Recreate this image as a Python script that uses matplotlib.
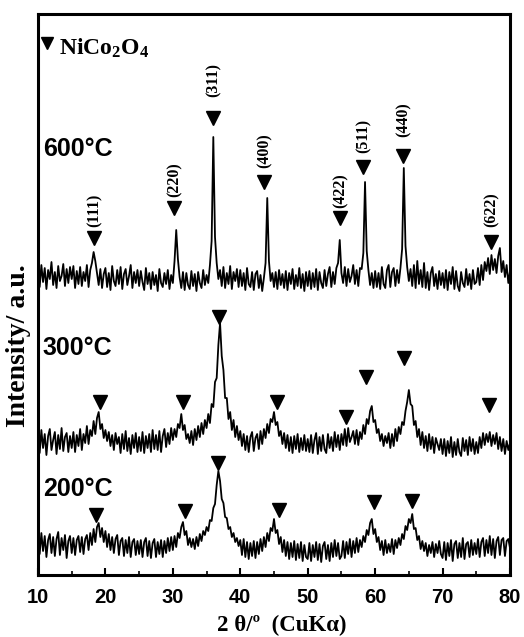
import numpy as np
import matplotlib.pyplot as plt

plt.rcParams['mathtext.fontset'] = 'custom'
plt.rcParams['mathtext.rm'] = 'Liberation Serif:bold'
plt.rcParams['mathtext.bf'] = 'Liberation Serif:bold'

# 2 theta grid (10 -> 80, step 0.25)
two_theta = np.arange(281) * 0.25 + 10

# intensity (a.u.), one row = 5 degrees
i600 = [30, 16, 38, 21, 35, 14, 33, 24, 41, 18, 31, 15, 37, 22, 27, 39, 17, 34, 20, 36,
        24, 37, 15, 32, 19, 36, 17, 31, 22, 38, 16, 33, 40, 51, 42, 30, 18, 34, 15, 29,
        35, 16, 30, 13, 37, 22, 17, 33, 19, 36, 14, 29, 34, 18, 27, 38, 15, 31, 20, 33,
        17, 32, 21, 13, 35, 19, 30, 14, 31, 18, 28, 12, 34, 20, 16, 30, 19, 33, 14, 28,
        20, 42, 73, 44, 26, 15, 31, 13, 30, 18, 14, 32, 17, 29, 12, 31, 20, 15, 33, 18,
        28, 20, 38, 62, 166, 66, 40, 24, 33, 17, 36, 15, 30, 19, 37, 14, 31, 22, 34, 16,
        33, 17, 30, 13, 35, 19, 16, 31, 13, 29, 32, 15, 28, 12, 25, 40, 105, 42, 22, 30,
        16, 31, 14, 33, 18, 29, 15, 32, 13, 30, 19, 34, 14, 28, 17, 35, 15, 29, 12, 31,
        17, 32, 14, 30, 16, 34, 13, 31, 20, 15, 33, 17, 29, 36, 16, 31, 19, 35, 40, 63,
        30, 20, 36, 17, 34, 21, 27, 38, 19, 33, 17, 35, 34, 50, 121, 52, 33, 18, 30, 15,
        32, 16, 30, 14, 36, 19, 15, 33, 38, 16, 31, 35, 17, 33, 20, 35, 54, 135, 57, 36,
        22, 34, 17, 38, 15, 42, 19, 33, 16, 40, 15, 31, 13, 30, 36, 17, 29, 14, 32, 18,
        30, 15, 33, 13, 31, 19, 36, 14, 32, 17, 12, 31, 20, 16, 34, 18, 29, 14, 33, 19,
        21, 35, 18, 38, 23, 41, 32, 45, 29, 48, 33, 44, 30, 47, 55, 31, 42, 26, 38, 20,
        32]

i300 = [31, 17, 40, 22, 36, 15, 34, 41, 20, 30, 38, 16, 35, 21, 42, 19, 33, 37, 18, 34,
        22, 38, 18, 35, 24, 41, 20, 36, 27, 44, 26, 40, 34, 49, 36, 52, 58, 41, 46, 32,
        40, 29, 38, 24, 35, 20, 37, 26, 33, 17, 36, 21, 39, 19, 32, 16, 35, 22, 37, 18,
        33, 19, 38, 17, 34, 22, 36, 18, 40, 21, 35, 20, 39, 18, 34, 41, 23, 37, 26, 42,
        30, 41, 33, 46, 42, 56, 40, 45, 31, 36, 27, 39, 25, 41, 30, 44, 33, 47, 36, 50,
        42, 56, 47, 66, 63, 88, 92, 125, 147, 114, 100, 72, 72, 51, 58, 40, 50, 33, 44, 30,
        39, 24, 36, 20, 34, 18, 33, 38, 19, 32, 36, 21, 39, 26, 41, 32, 46, 37, 51, 48,
        58, 45, 48, 34, 39, 26, 37, 22, 35, 19, 33, 17, 34, 21, 36, 18, 32, 20, 35, 19,
        31, 18, 35, 17, 30, 37, 16, 33, 19, 35, 21, 17, 36, 22, 33, 19, 38, 23, 35, 20,
        36, 25, 41, 24, 42, 28, 33, 39, 26, 40, 25, 38, 31, 45, 36, 51, 46, 59, 64, 48,
        50, 37, 41, 29, 36, 24, 34, 27, 37, 22, 36, 24, 41, 29, 43, 36, 48, 45, 59, 68,
        80, 66, 64, 45, 49, 33, 41, 25, 38, 22, 34, 19, 36, 21, 33, 17, 32, 26, 20, 31,
        16, 31, 14, 29, 17, 33, 13, 28, 15, 31, 18, 14, 32, 19, 30, 15, 33, 19, 31, 16,
        28, 17, 33, 22, 37, 25, 36, 28, 38, 24, 35, 26, 37, 21, 33, 19, 31, 16, 29, 20,
        27]

i200 = [37, 21, 42, 24, 39, 18, 35, 41, 22, 38, 19, 36, 43, 20, 37, 25, 40, 17, 34, 39,
        22, 37, 20, 35, 39, 23, 38, 21, 36, 40, 25, 42, 30, 46, 33, 48, 52, 38, 47, 33,
        44, 28, 41, 25, 38, 22, 36, 40, 20, 34, 37, 19, 35, 22, 38, 18, 33, 36, 20, 34,
        21, 35, 18, 33, 37, 19, 34, 17, 32, 36, 18, 33, 21, 35, 18, 34, 22, 37, 24, 38,
        25, 39, 28, 42, 37, 48, 53, 40, 44, 30, 37, 28, 36, 26, 38, 29, 41, 34, 44, 40,
        48, 44, 55, 54, 67, 71, 90, 104, 94, 76, 72, 58, 57, 46, 48, 38, 42, 33, 37, 29,
        35, 20, 36, 18, 33, 16, 32, 19, 34, 17, 33, 21, 36, 24, 38, 28, 42, 34, 47, 44,
        56, 42, 45, 31, 38, 23, 35, 19, 33, 16, 32, 18, 34, 15, 31, 17, 33, 14, 30, 18,
        16, 32, 14, 30, 18, 33, 15, 31, 13, 29, 33, 16, 30, 14, 32, 18, 35, 19, 32, 16,
        19, 34, 17, 33, 21, 36, 18, 34, 22, 37, 23, 35, 28, 39, 33, 45, 40, 52, 56, 41,
        46, 33, 38, 25, 34, 20, 35, 22, 31, 23, 36, 21, 35, 27, 37, 30, 41, 36, 49, 45,
        56, 52, 61, 46, 47, 35, 39, 26, 34, 24, 32, 19, 30, 22, 33, 18, 31, 22, 34, 21,
        17, 33, 15, 32, 19, 35, 14, 31, 34, 17, 32, 18, 37, 16, 31, 33, 18, 35, 20, 32,
        21, 36, 18, 33, 37, 19, 35, 22, 39, 20, 36, 17, 34, 38, 20, 35, 37, 19, 34, 36,
        27]

# vertical shift of each pattern
offsets = {'600': 272, '300': 105, '200': 0}

# NiCo2O4 reflections marked on each pattern (2 theta, intensity of marker)
hkl600 = ['(111)', '(220)', '(311)', '(400)', '(422)', '(511)', '(440)', '(622)']
tri600_x = [18.35, 30.1, 35.95, 43.5, 54.85, 58.2, 64.1, 77.2]
tri600_y = [337, 367, 457, 393, 357, 408, 419, 333]
tri300_x = [19.2, 31.55, 36.9, 45.45, 55.7, 58.65, 64.25, 76.85]
tri300_y = [173, 173, 258, 173, 158, 198, 217, 170]
tri200_x = [18.6, 31.8, 36.65, 45.8, 59.9, 65.45]
tri200_y = [60, 64, 112, 65, 73, 74]

# label gap above each triangle (points)
gap600 = [8, 8, 15, 10, 7, 10, 13.5, 10.5]

fig = plt.figure(figsize=(5.24, 6.37), dpi=100)
ax = fig.add_axes([0.0725, 0.0973, 0.9008, 0.8807])

ax.plot(two_theta, np.array(i600) + offsets['600'], color='black', lw=1.3)
ax.plot(two_theta, np.array(i300) + offsets['300'], color='black', lw=1.3)
ax.plot(two_theta, np.array(i200) + offsets['200'], color='black', lw=1.3)

ax.plot(tri600_x, tri600_y, 'v', color='black', ms=10.5, ls='none')
ax.plot(tri300_x, tri300_y, 'v', color='black', ms=10.5, ls='none')
ax.plot(tri200_x, tri200_y, 'v', color='black', ms=10.5, ls='none')

for lab, x, y, g in zip(hkl600, tri600_x, tri600_y, gap600):
    ax.annotate(lab, (x, y), xytext=(0.5, g), textcoords='offset points',
                rotation=90, ha='center', va='bottom',
                family='Liberation Serif', weight='bold', fontsize=11.5)

# temperature labels
ax.text(10.7, 426, '600°C', family='Liberation Sans', weight='bold', fontsize=18, va='center')
ax.text(10.7, 227, '300°C', family='Liberation Sans', weight='bold', fontsize=18, va='center')
ax.text(10.7, 86, '200°C', family='Liberation Sans', weight='bold', fontsize=18, va='center')

# legend
ax.plot([11.35], [532], 'v', color='black', ms=9)
ax.text(13.1, 527, r'$\mathrm{NiCo_2O_4}$', fontsize=17, va='center', ha='left')

ax.set_xlim(10, 80)
ax.set_ylim(0, 561)
ax.set_yticks([])
ax.set_xticks(np.arange(10, 81, 10))
ax.set_xticks(np.arange(15, 80, 10), minor=True)
ax.tick_params(axis='x', which='major', direction='in', length=5, width=1.5, pad=9)
ax.tick_params(axis='x', which='minor', direction='in', length=3, width=1.2)
for lab in ax.get_xticklabels():
    lab.set_family('Liberation Sans')
    lab.set_weight('bold')
    lab.set_fontsize(14.5)
for s in ax.spines.values():
    s.set_linewidth(2.2)

fig.text(0.538, 0.018, '2 θ/º  (CuKα)', family='Liberation Serif', weight='bold',
         fontsize=16.5, ha='center', va='center')
fig.text(0.0344, 0.457, 'Intensity/ a.u.', family='Liberation Serif', weight='bold',
         fontsize=20, ha='center', va='center', rotation=90)

fig.savefig('out.png', dpi=100)
